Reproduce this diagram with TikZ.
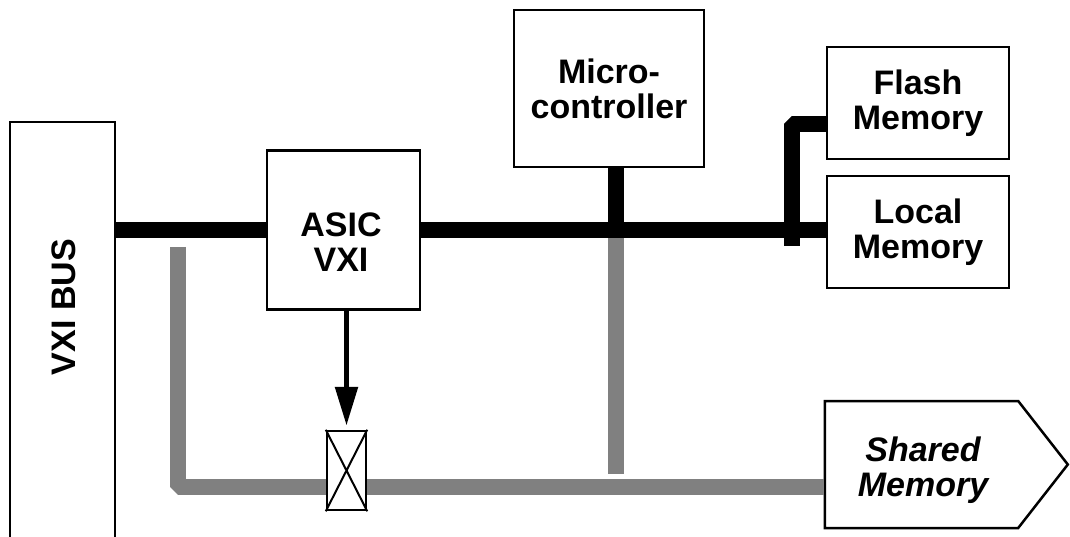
\documentclass[tikz,border=0pt]{standalone}
\usepackage{fontspec}
\setmainfont{Liberation Sans}
\usetikzlibrary{arrows.meta,shapes.symbols}
\definecolor{busgray}{RGB}{128,128,128}

\begin{document}
\begin{tikzpicture}[x=1pt, y=1pt,
  font=\fontsize{34}{35}\selectfont\bfseries,
  blk/.style={draw=black, line width=2.5pt, fill=white, inner sep=0pt, align=center},
  bus/.style={line width=16pt, black, line join=bevel},
  gbus/.style={line width=16pt, busgray, line join=bevel},
  sig/.style={line width=5.5pt, -{Triangle[length=39pt,width=22pt]}, shorten >=4pt}]
\useasboundingbox (0,0) rectangle (1070,536);

% blocks
\node[blk, minimum width=105pt, minimum height=424pt] (vxi) at (62.5,202) {};
\node[rotate=90] (vxilbl) at (64,229) {VXI BUS};
\node[blk, minimum width=153pt, minimum height=159pt] (asic) at (343.5,306) {};
\node[align=center] (asiclbl) at (341,294) {ASIC\\VXI};
\node[blk, minimum width=190pt, minimum height=157pt] (micro) at (609,447.5) {Micro-\\controller};
\node[blk, minimum width=182pt, minimum height=112pt] (flash) at (918,433) {Flash\\Memory};
\node[blk, minimum width=182pt, minimum height=112pt] (local) at (918,304) {Local\\Memory};
\node[draw, line width=2.5pt, fill=white, signal, signal to=east, signal pointer angle=104,
  minimum width=243pt, minimum height=127pt, inner sep=0pt] (shared) at (921.5,71.5) {};
\node[font=\fontsize{34}{35}\selectfont\bfseries\itshape, align=center] (sharedlbl) at (923,66) {Shared\\Memory};

% tap points
\coordinate (mtap) at (615.5,306);
\coordinate (mend) at (615.5,62);
\coordinate (ftap) at (791.5,290);
\coordinate (gtop) at (178,289);
\coordinate (gbot) at (178,49);

% gray bus
\draw[gbus] (mtap) -- (mend);
\draw[gbus] (gtop) -- (gbot) -- (gbot -| shared.west);

% black bus
\draw[bus] (vxi.east |- asic.west) -- (asic.west);
\draw[bus] (asic.east) -- (asic.east -| local.west);
\draw[bus] (mtap |- micro.south) -- (mtap);
\draw[bus] (ftap) |- ([yshift=-21.5pt]flash.west);

% switch
\node[blk, minimum width=39pt, minimum height=79pt] (sw) at (346.5,65.5) {};
\draw[line width=2pt] (sw.north west) -- (sw.south east) (sw.north east) -- (sw.south west);
\draw[sig] (asic.south -| sw.north) -- (sw.north);
\end{tikzpicture}
\end{document}
